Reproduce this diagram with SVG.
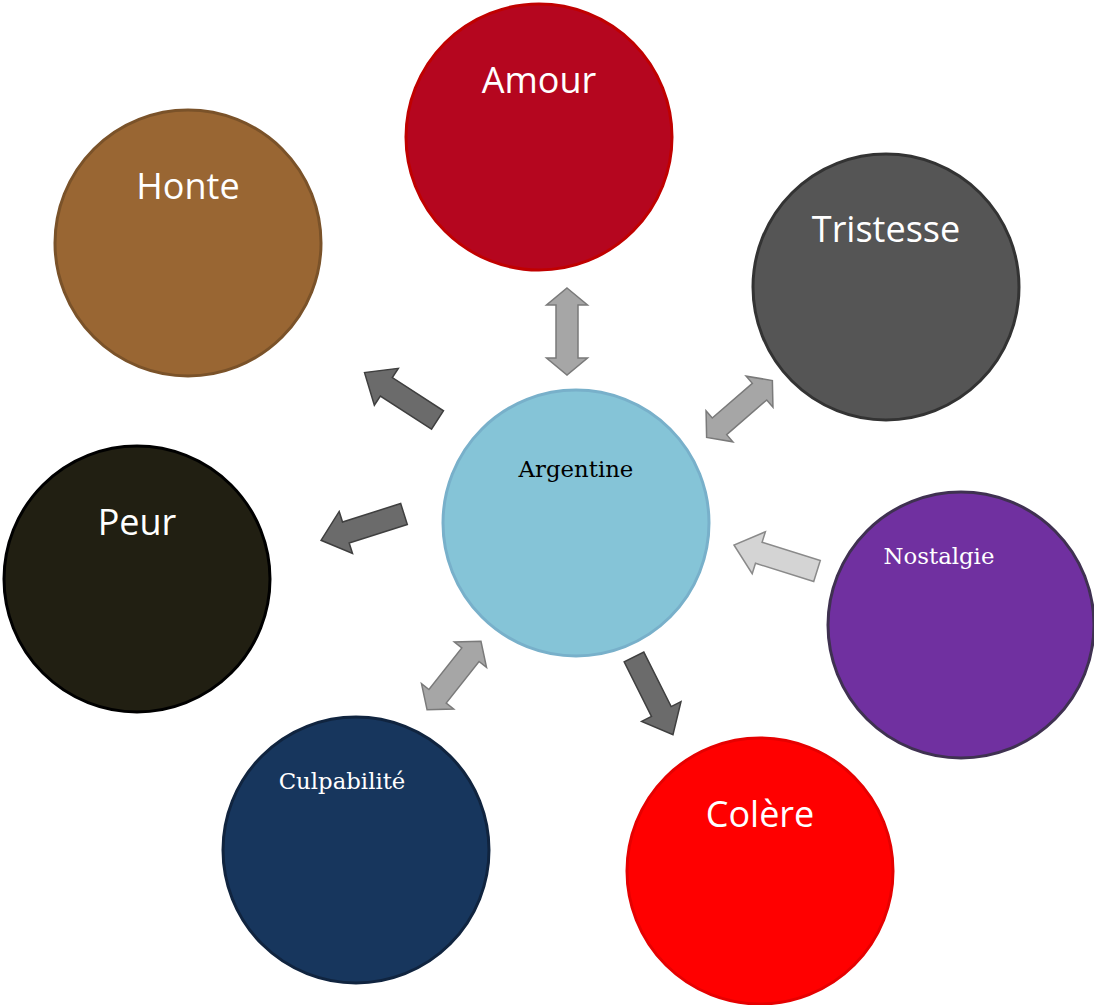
<svg xmlns="http://www.w3.org/2000/svg" width="1094" height="1005" viewBox="0 0 1094 1005">
  <style>
    .node { stroke-width: 3; }
    .sans { font-family: "Open Sans", "Liberation Sans", sans-serif; font-size: 36px; fill: #ffffff; text-anchor: middle; }
    .serif { font-family: "DejaVu Serif", "Liberation Serif", serif; font-size: 22.8px; text-anchor: middle; }
    .dbl { fill: #a6a6a6; stroke: #7a7a7a; stroke-width: 1.5; stroke-linejoin: miter; }
    .dark { fill: #6b6b6b; stroke: #3f3f3f; stroke-width: 1.5; }
    .light { fill: #d4d4d4; stroke: #8a8a8a; stroke-width: 1.5; }
  </style>
  <defs>
    <path id="double" d="M -43.5 0 L -26.5 -20.5 L -26.5 -11 L 26.5 -11 L 26.5 -20.5 L 43.5 0 L 26.5 20.5 L 26.5 11 L -26.5 11 L -26.5 20.5 Z"/>
    <path id="single" d="M 0 -11 L 61 -11 L 61 -22 L 87 0 L 61 22 L 61 11 L 0 11 Z"/>
  </defs>

  <g id="amour">
    <circle class="node" cx="539" cy="137" r="133" fill="#b5061f" stroke="#c00000"/>
    <text class="sans" x="539" y="93">Amour</text>
  </g>
  <g id="honte">
    <circle class="node" cx="188" cy="243" r="133" fill="#996633" stroke="#7a5229"/>
    <text class="sans" x="188" y="199">Honte</text>
  </g>
  <g id="tristesse">
    <circle class="node" cx="886" cy="287" r="133" fill="#555555" stroke="#333333"/>
    <text class="sans" x="886" y="242">Tristesse</text>
  </g>
  <g id="argentine">
    <circle class="node" cx="576" cy="523" r="133" fill="#85c4d7" stroke="#78b0ca"/>
    <text class="serif" x="576" y="477" fill="#000000">Argentine</text>
  </g>
  <g id="peur">
    <circle class="node" cx="137" cy="579" r="133" fill="#211f12" stroke="#000000"/>
    <text class="sans" x="137" y="535">Peur</text>
  </g>
  <g id="nostalgie">
    <circle class="node" cx="961" cy="625" r="133" fill="#7030a0" stroke="#3f3151"/>
    <text class="serif" x="939" y="564" fill="#ffffff">Nostalgie</text>
  </g>
  <g id="culpabilite">
    <circle class="node" cx="356" cy="850" r="133" fill="#17365d" stroke="#10243f"/>
    <text class="serif" x="342" y="789" fill="#ffffff">Culpabilité</text>
  </g>
  <g id="colere">
    <circle class="node" cx="760" cy="871" r="133" fill="#ff0000" stroke="#e60000"/>
    <text class="sans" x="760" y="827">Colère</text>
  </g>

  <g id="connectors">
    <use href="#double" class="dbl" transform="translate(567,331.5) rotate(90)"/>
    <use href="#double" class="dbl" transform="translate(739.5,409) rotate(-40.9)"/>
    <use href="#double" class="dbl" transform="translate(454,675.5) rotate(-51.7)"/>
    <use href="#single" class="light" transform="translate(817,571) rotate(197.4)"/>
    <use href="#single" class="dark" transform="translate(634,657) rotate(63.4)"/>
    <use href="#single" class="dark" transform="translate(404,514) rotate(162.4)"/>
    <use href="#single" class="dark" transform="translate(437.5,420) rotate(-147)"/>
  </g>
</svg>
